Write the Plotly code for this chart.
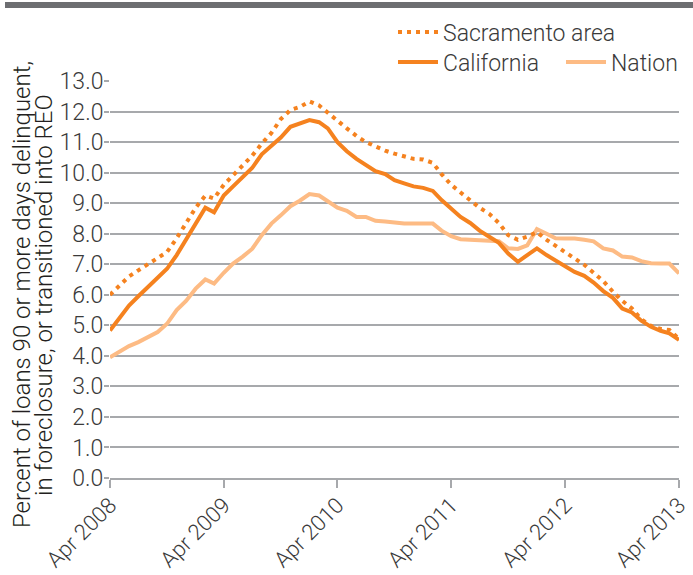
import pandas as pd
import plotly.graph_objects as go

months = pd.date_range("2008-04-01", "2013-04-01", freq="MS")

sacramento = [6.0, 6.3, 6.6, 6.8, 7.0, 7.18, 7.4, 7.85, 8.35, 8.85,
              9.25, 9.15, 9.6, 9.9, 10.25, 10.55, 10.95, 11.3, 11.75, 12.05,
              12.15, 12.33, 12.2, 11.95, 11.7, 11.45, 11.2, 11.0, 10.85, 10.72,
              10.62, 10.52, 10.45, 10.43, 10.32, 9.95, 9.6, 9.35, 9.1, 8.85,
              8.65, 8.35, 7.95, 7.8, 7.9, 8.05, 7.8, 7.6, 7.4, 7.2,
              6.98, 6.72, 6.45, 6.1, 5.8, 5.55, 5.2, 4.98, 4.88, 4.85,
              4.55]
california = [4.83, 5.25, 5.65, 5.95, 6.25, 6.55, 6.85, 7.3, 7.8, 8.3,
              8.85, 8.7, 9.25, 9.55, 9.85, 10.15, 10.6, 10.9, 11.15, 11.5,
              11.6, 11.72, 11.65, 11.45, 11.0, 10.7, 10.45, 10.25, 10.05, 9.95,
              9.75, 9.65, 9.55, 9.5, 9.4, 9.1, 8.8, 8.55, 8.35, 8.1,
              7.9, 7.7, 7.35, 7.08, 7.3, 7.52, 7.3, 7.12, 6.95, 6.75,
              6.62, 6.4, 6.12, 5.9, 5.55, 5.42, 5.15, 4.95, 4.82, 4.74,
              4.52]
nation = [3.95, 4.15, 4.32, 4.45, 4.62, 4.78, 5.05, 5.5, 5.8, 6.2,
          6.5, 6.37, 6.72, 7.02, 7.25, 7.5, 7.95, 8.33, 8.6, 8.9,
          9.08, 9.3, 9.25, 9.05, 8.85, 8.75, 8.55, 8.55, 8.42, 8.4,
          8.35, 8.33, 8.33, 8.33, 8.33, 8.1, 7.92, 7.82, 7.8, 7.77,
          7.77, 7.75, 7.52, 7.5, 7.62, 8.15, 8.0, 7.85, 7.84, 7.84,
          7.8, 7.75, 7.52, 7.45, 7.25, 7.22, 7.1, 7.03, 7.02, 7.02,
          6.7]

tick_dates = ["2008-04-01", "2009-04-01", "2010-04-01", "2011-04-01", "2012-04-01", "2013-04-01"]
tick_labels = ["Apr 2008", "Apr 2009", "Apr 2010", "Apr 2011", "Apr 2012", "Apr 2013"]
y_ticks = [i * 1.0 for i in range(14)]
title_lines = ["Percent of loans 90 or more days delinquent,",
               "in foreclosure, or transitioned into REO"]

ORANGE = "#F5821F"
LIGHT = "#FDBB84"
FONT = "Roboto, Liberation Sans, Arial, sans-serif"
TXT = "#3a3a3a"

fig = go.Figure()
fig.add_trace(go.Scatter(x=months, y=nation, mode="lines", name="Nation",
                         line=dict(color=LIGHT, width=4), legend="legend2"))
fig.add_trace(go.Scatter(x=months, y=california, mode="lines", name="California",
                         line=dict(color=ORANGE, width=4), legend="legend2"))
fig.add_trace(go.Scatter(x=months, y=sacramento, mode="lines", name="Sacramento area",
                         line=dict(color=ORANGE, width=4, dash="4px,5px"), legend="legend"))

L, R, T, B = 110, 14, 81, 97
W, H = 693, 575
pw = W - L - R
ph = H - T - B

def px2x(px):
    return (px - L) / pw

def px2y(py):
    return (H - B - py) / ph

annotations = []
for txt, cx in zip(title_lines, [22, 44]):
    annotations.append(dict(text=txt, xref="paper", yref="paper", x=px2x(cx), y=px2y(295),
                            xanchor="center", yanchor="middle", textangle=-90, showarrow=False,
                            font=dict(size=24, color="#231f20", weight=300)))

fig.update_layout(
    width=W, height=H,
    margin=dict(l=L, r=R, t=T, b=B, autoexpand=False),
    paper_bgcolor="white", plot_bgcolor="white",
    font=dict(family=FONT, size=21, color=TXT, weight=300),
    showlegend=True,
    legend=dict(x=px2x(393), y=px2y(32), xanchor="left", yanchor="middle",
                orientation="h", font=dict(size=23, color=TXT, weight=300),
                bgcolor="rgba(0,0,0,0)", itemwidth=40),
    legend2=dict(x=px2x(393), y=px2y(62), xanchor="left", yanchor="middle",
                 orientation="h", font=dict(size=23, color=TXT, weight=300),
                 bgcolor="rgba(0,0,0,0)", itemwidth=40, traceorder="reversed",
                 entrywidth=113),
    xaxis=dict(range=[months[0], months[-1]], tickvals=tick_dates, ticktext=tick_labels,
               tickangle=-45, ticks="outside", ticklen=8, tickcolor="#a7a9ac", tickwidth=1.5,
               ticklabelstandoff=-4,
               showgrid=False, showline=True, linecolor="#a7a9ac", linewidth=1.5,
               zeroline=False, tickfont=dict(size=22, color=TXT, weight=300)),
    yaxis=dict(range=[0, 13], tickvals=y_ticks, tickformat=".1f",
               ticks="outside", ticklen=5, tickcolor="#a7a9ac", tickwidth=1.5,
               ticklabelstandoff=-4,
               showgrid=True, gridcolor="#a7a9ac", gridwidth=1.5,
               zeroline=False, showline=False, tickfont=dict(size=23, color=TXT, weight=300)),
    shapes=[dict(type="rect", xref="paper", yref="paper",
                 x0=px2x(5), x1=px2x(693), y0=px2y(8), y1=px2y(2),
                 fillcolor="#6d6e71", line=dict(width=0), layer="above")],
    annotations=annotations,
)

fig.write_html("out.html", config={"displayModeBar": False},
               post_script="document.body.style.margin='0';")
